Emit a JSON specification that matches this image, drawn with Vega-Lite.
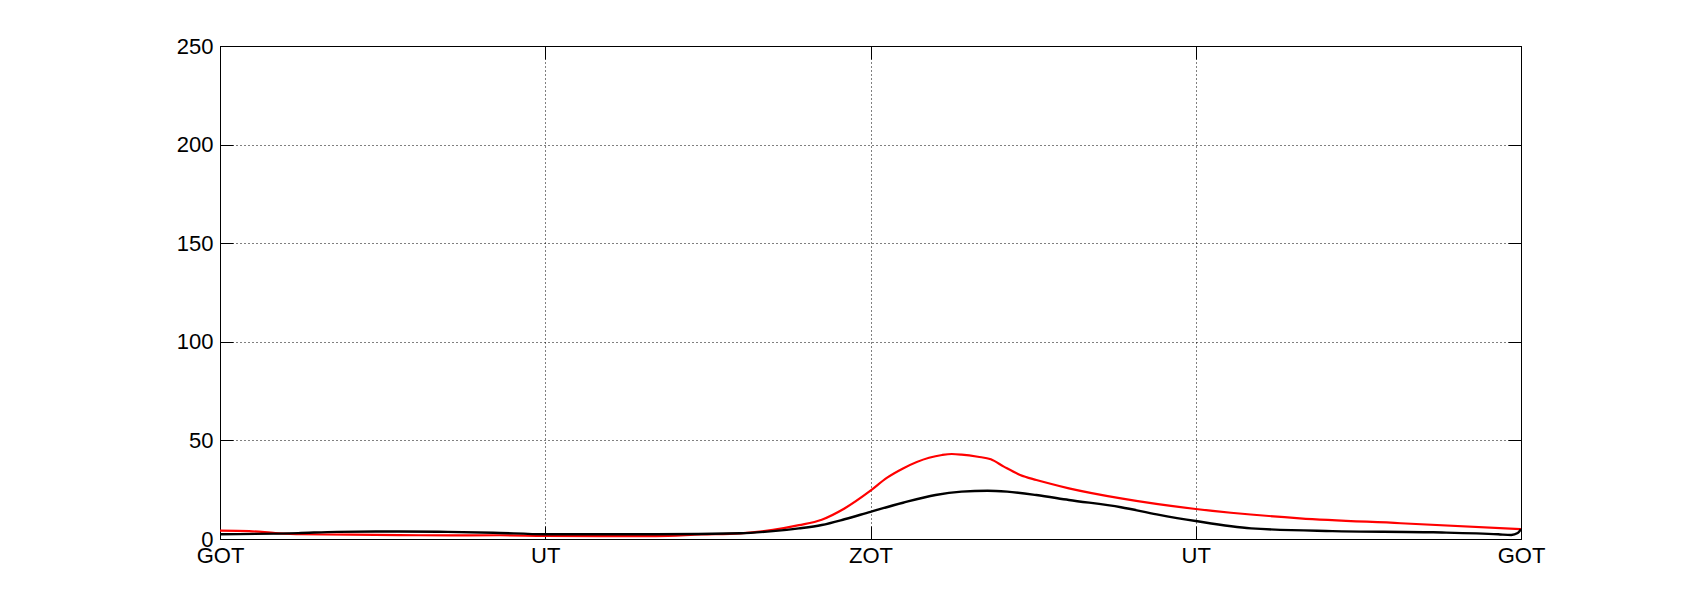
{
  "$schema": "https://vega.github.io/schema/vega-lite/v6.json",
  "width": 1301,
  "height": 493,
  "autosize": "none",
  "padding": {"left": 220, "top": 46, "right": 160, "bottom": 68},
  "background": "white",
  "config": {
    "view": {"stroke": null},
    "axis": {
      "labelFont": "Liberation Sans",
      "labelFontSize": 22,
      "labelColor": "#000000",
      "domainColor": "#000000",
      "domainWidth": 1,
      "tickColor": "#000000",
      "tickWidth": 1,
      "tickSize": -13,
      "gridColor": "#000000",
      "gridDash": [1, 3],
      "gridWidth": 1,
      "gridOpacity": 1,
      "title": null,
      "labelFlush": false,
      "labelOverlap": false,
      "labelBound": false
    }
  },
  "datasets": {
    "red": [
      {"x": 0.00, "y": 4.2}, {"x": 0.09, "y": 4.0}, {"x": 0.17, "y": 3.0}, {"x": 0.25, "y": 2.4},
      {"x": 0.40, "y": 2.2}, {"x": 0.55, "y": 2.0}, {"x": 0.71, "y": 1.8}, {"x": 0.86, "y": 1.9},
      {"x": 1.00, "y": 1.6}, {"x": 1.17, "y": 1.5}, {"x": 1.34, "y": 1.5}, {"x": 1.48, "y": 2.3},
      {"x": 1.60, "y": 2.9}, {"x": 1.70, "y": 4.6}, {"x": 1.78, "y": 7.0}, {"x": 1.85, "y": 9.8},
      {"x": 1.92, "y": 15.5}, {"x": 2.00, "y": 24.5}, {"x": 2.05, "y": 31.0}, {"x": 2.10, "y": 35.8},
      {"x": 2.18, "y": 41.2}, {"x": 2.22, "y": 42.6}, {"x": 2.25, "y": 43.1}, {"x": 2.28, "y": 42.8},
      {"x": 2.33, "y": 41.7}, {"x": 2.37, "y": 40.4}, {"x": 2.41, "y": 36.7}, {"x": 2.46, "y": 32.5},
      {"x": 2.51, "y": 29.9}, {"x": 2.61, "y": 25.7}, {"x": 2.77, "y": 20.6}, {"x": 3.00, "y": 15.2},
      {"x": 3.32, "y": 10.5}, {"x": 3.63, "y": 8.0}, {"x": 4.00, "y": 5.0}
    ],
    "black": [
      {"x": 0.00, "y": 2.4}, {"x": 0.24, "y": 3.0}, {"x": 0.36, "y": 3.6}, {"x": 0.55, "y": 3.8},
      {"x": 0.70, "y": 3.6}, {"x": 0.84, "y": 3.2}, {"x": 1.00, "y": 2.4}, {"x": 1.17, "y": 2.4},
      {"x": 1.34, "y": 2.4}, {"x": 1.60, "y": 2.9}, {"x": 1.70, "y": 4.0}, {"x": 1.78, "y": 5.4},
      {"x": 1.85, "y": 7.1}, {"x": 1.92, "y": 10.0}, {"x": 2.00, "y": 13.8}, {"x": 2.10, "y": 18.4},
      {"x": 2.20, "y": 22.3}, {"x": 2.28, "y": 24.0}, {"x": 2.36, "y": 24.5}, {"x": 2.42, "y": 24.0},
      {"x": 2.51, "y": 22.3}, {"x": 2.61, "y": 19.8}, {"x": 2.77, "y": 16.1}, {"x": 2.88, "y": 12.5},
      {"x": 3.00, "y": 9.1}, {"x": 3.17, "y": 5.4}, {"x": 3.42, "y": 4.0}, {"x": 3.73, "y": 3.4},
      {"x": 3.93, "y": 2.4}, {"x": 3.97, "y": 2.0}, {"x": 3.99, "y": 3.0}, {"x": 4.00, "y": 5.0}
    ]
  },
  "layer": [
    {
      "data": {"name": "red"},
      "mark": {"type": "line", "interpolate": "monotone", "color": "#ff0000", "strokeWidth": 2.2, "clip": true},
      "encoding": {
        "x": {
          "field": "x", "type": "quantitative",
          "scale": {"domain": [0, 4], "nice": false, "zero": false},
          "axis": {
            "orient": "bottom",
            "values": [0, 1, 2, 3, 4],
            "labelExpr": "['GOT','UT','ZOT','UT','GOT'][datum.value]",
            "labelPadding": 19,
            "labelAlign": "center",
            "labelBaseline": "top",
            "grid": true
          }
        },
        "y": {
          "field": "y", "type": "quantitative",
          "scale": {"domain": [0, 250], "nice": false, "zero": true},
          "axis": {
            "orient": "left",
            "values": [0, 50, 100, 150, 200, 250],
            "labelPadding": 20,
            "labelAlign": "right",
            "labelBaseline": "middle",
            "grid": true
          }
        }
      }
    },
    {
      "data": {"name": "black"},
      "mark": {"type": "line", "interpolate": "monotone", "color": "#000000", "strokeWidth": 2.4, "clip": true},
      "encoding": {
        "x": {"field": "x", "type": "quantitative", "axis": null},
        "y": {"field": "y", "type": "quantitative", "axis": null}
      }
    },
    {
      "data": {"name": "black"},
      "mark": {"type": "line", "opacity": 0},
      "encoding": {
        "x": {
          "field": "x", "type": "quantitative",
          "axis": {"orient": "top", "values": [0, 1, 2, 3, 4], "labels": false, "grid": false}
        },
        "y": {
          "field": "y", "type": "quantitative",
          "axis": {"orient": "right", "values": [0, 50, 100, 150, 200, 250], "labels": false, "grid": false}
        }
      }
    }
  ],
  "resolve": {"axis": {"x": "independent", "y": "independent"}}
}
